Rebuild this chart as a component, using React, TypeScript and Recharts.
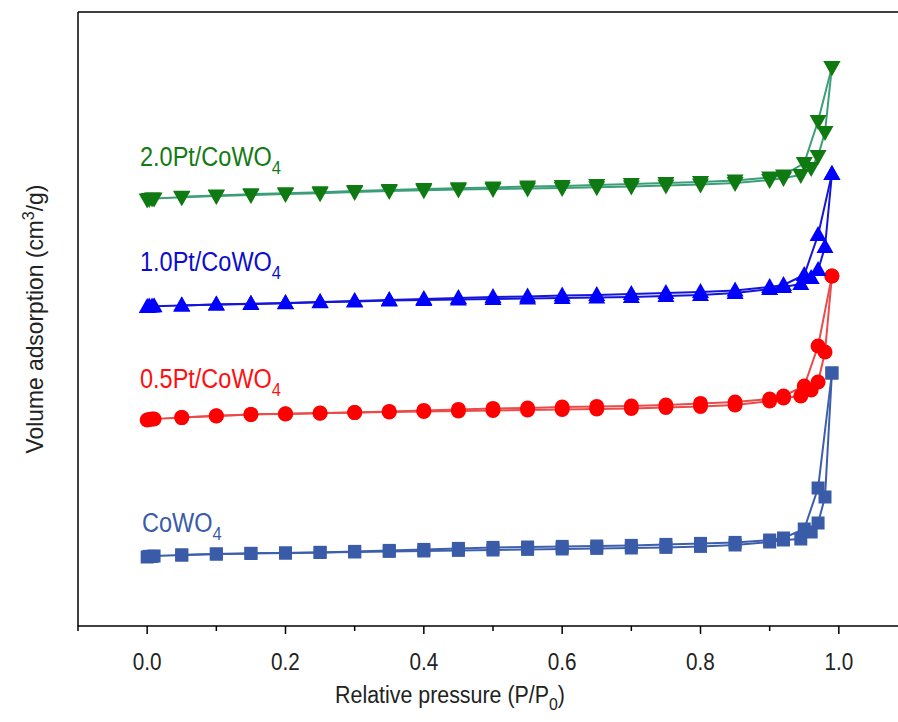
import React from 'react';
import { LineChart, Line, XAxis, YAxis, ReferenceLine } from 'recharts';

// relative pressure points (adsorption goes up, desorption comes back down)
const adsP = [0, 0.003, 0.007, 0.01, 0.05, 0.1, 0.15, 0.2, 0.25, 0.3, 0.35, 0.4, 0.45, 0.5, 0.55, 0.6, 0.65, 0.7, 0.75, 0.8, 0.85, 0.9, 0.92, 0.945, 0.96, 0.97, 0.98, 0.99];
const desP = [0.99, 0.97, 0.95, 0.92, 0.9, 0.85, 0.8, 0.75, 0.7, 0.65, 0.6, 0.55, 0.5, 0.45, 0.4, 0.35, 0.3, 0.25, 0.2, 0.15, 0.1, 0.05];

// volume adsorbed, arbitrary offset units (curves are stacked, no y ticks)
const cowo4Ads = [34.5, 34.8, 34.8, 35, 35.5, 36, 36.3, 36.5, 36.8, 37, 37.3, 37.5, 37.8, 38, 38.3, 38.5, 38.8, 39, 39.3, 39.8, 40.5, 42, 43, 43.5, 47, 51.5, 64.5, 126.5];
const cowo4Des = [126.5, 69, 48.5, 44, 43, 41.8, 41.3, 40.8, 40.3, 40, 39.8, 39.5, 39.3, 38.8, 38.3, 37.8, 37.3, 36.8, 36.5, 36.3, 36, 35.5];

const pt05Ads = [103, 103.3, 103.5, 103.5, 104.2, 105, 105.8, 106, 106.4, 106.7, 107, 107.3, 107.5, 107.8, 108, 108.3, 108.5, 108.8, 109.3, 109.8, 110.5, 112.5, 114, 115, 118, 122, 137, 175];
const pt05Des = [175, 140, 120, 115, 113.5, 112, 111.3, 110.5, 110, 109.8, 109.5, 109, 108.8, 108.3, 107.8, 107.3, 106.8, 106.5, 106.1, 105.8, 105.1, 104.3];

const pt10Ads = [159.5, 159.7, 159.8, 159.9, 160.2, 160.7, 161, 161.4, 161.9, 162.2, 162.7, 163, 163.3, 163.5, 163.8, 164, 164.3, 164.5, 165, 165.5, 166.5, 168.5, 169.5, 171, 174, 178, 189.5, 226];
const pt10Des = [226, 195.5, 175.5, 170.5, 169.5, 167.8, 167, 166.5, 166, 165.5, 165.3, 164.8, 164.5, 164, 163.5, 163, 162.5, 162, 161.5, 161.1, 160.8, 160.3];

const pt20Ads = [213.3, 213.5, 213.7, 213.8, 214.4, 215, 215.5, 216, 216.4, 217, 217.5, 217.9, 218.2, 218.5, 218.8, 219, 219.4, 219.8, 220.3, 220.8, 221.5, 223, 224, 225.5, 229, 235, 247, 279.5];
const pt20Des = [279.5, 252.5, 231.5, 225.3, 224.3, 222.8, 222, 221.5, 221, 220.5, 220, 219.7, 219.3, 218.9, 218.5, 218, 217.5, 216.9, 216.4, 215.9, 215.3, 214.6];

const xTicks = [-0.1, 0, 0.1, 0.2, 0.3, 0.4, 0.5, 0.6, 0.7, 0.8, 0.9, 1.0, 1.1];

const FONT = '"Liberation Sans", Arial, sans-serif';

const toRows = (xs: number[], ys: number[]) => xs.map((x, i) => ({ x, v: ys[i] }));

type Shape = 'square' | 'circle' | 'up' | 'down';

const makeDot = (shape: Shape, color: string) => (p: any) => {
  const { cx, cy, index } = p;
  const k = `d-${index}`;
  if (cx == null || cy == null) return <g key={k} />;
  if (shape === 'square') return <rect key={k} x={cx - 6.5} y={cy - 6.5} width={13} height={13} fill={color} />;
  if (shape === 'circle') return <circle key={k} cx={cx} cy={cy} r={7.5} fill={color} />;
  if (shape === 'up')
    return <polygon key={k} points={`${cx},${cy - 9} ${cx - 8.5},${cy + 6} ${cx + 8.5},${cy + 6}`} fill={color} />;
  return <polygon key={k} points={`${cx},${cy + 9} ${cx - 8.5},${cy - 6} ${cx + 8.5},${cy - 6}`} fill={color} />;
};

const XTick = (p: any) => {
  const { x, y, payload } = p;
  const v = payload.value as number;
  const major = Math.round(v * 10) % 2 === 0;
  return (
    <g>
      <line x1={x} x2={x} y1={y} y2={y + (major ? 8 : 5)} stroke="#000" strokeWidth={1.5} />
      {major && (
        <text
          x={x}
          y={y + 44}
          textAnchor="middle"
          fontSize={23}
          fontFamily={FONT}
          fill="#222"
          transform={`translate(${x} 0) scale(0.9 1) translate(${-x} 0)`}
        >
          {v.toFixed(1)}
        </text>
      )}
    </g>
  );
};

const series = [
  { id: 'cowo4', ads: cowo4Ads, des: cowo4Des, line: '#3d5fab', mark: '#3a5ba8', shape: 'square' as Shape },
  { id: 'pt05', ads: pt05Ads, des: pt05Des, line: '#ea4b4b', mark: '#ff0000', shape: 'circle' as Shape },
  { id: 'pt10', ads: pt10Ads, des: pt10Des, line: '#1515d8', mark: '#0000ff', shape: 'up' as Shape },
  { id: 'pt20', ads: pt20Ads, des: pt20Des, line: '#3c9e78', mark: '#0f7a12', shape: 'down' as Shape },
];

const labels = [
  { text: '2.0Pt/CoWO', color: '#147a14', left: 140, top: 142 },
  { text: '1.0Pt/CoWO', color: '#0c0cd0', left: 140, top: 247 },
  { text: '0.5Pt/CoWO', color: '#ff1010', left: 140, top: 364 },
  { text: 'CoWO', color: '#3a5ba8', left: 142, top: 508 },
];

export default function App() {
  return (
    <div style={{ position: 'absolute', left: 0, top: 0, width: 898, height: 722, overflow: 'hidden', background: '#fff', fontFamily: FONT }}>
      <LineChart width={930} height={722} margin={{ top: 12, right: 22, left: 78, bottom: 36 }}>
        <XAxis
          type="number"
          dataKey="x"
          domain={[-0.1, 1.1]}
          ticks={xTicks}
          allowDataOverflow
          height={60}
          tickSize={0}
          tickMargin={0}
          tickLine={false}
          tick={<XTick />}
          axisLine={{ stroke: '#000', strokeWidth: 1.5 }}
          interval={0}
        />
        <YAxis type="number" dataKey="v" domain={[0, 307]} width={0} tick={false} tickLine={false} axisLine={false} />
        <ReferenceLine y={307} stroke="#000" strokeWidth={1.5} />
        <ReferenceLine x={-0.1} stroke="#000" strokeWidth={1.5} />
        <ReferenceLine x={1.1} stroke="#000" strokeWidth={1.5} />
        {series.flatMap((s) => [
          <Line
            key={`${s.id}-a`}
            data={toRows(adsP, s.ads)}
            dataKey="v"
            type="linear"
            stroke={s.line}
            strokeWidth={2}
            dot={makeDot(s.shape, s.mark)}
            activeDot={false}
            isAnimationActive={false}
          />,
          <Line
            key={`${s.id}-d`}
            data={toRows(desP, s.des)}
            dataKey="v"
            type="linear"
            stroke={s.line}
            strokeWidth={2}
            dot={makeDot(s.shape, s.mark)}
            activeDot={false}
            isAnimationActive={false}
          />,
        ])}
      </LineChart>

      {labels.map((l) => (
        <div
          key={l.text + l.top}
          style={{
            position: 'absolute',
            left: l.left,
            top: l.top,
            color: l.color,
            fontSize: 27,
            lineHeight: '30px',
            whiteSpace: 'nowrap',
            transform: 'scaleX(0.87)',
            transformOrigin: 'left center',
          }}
        >
          {l.text}
          <span style={{ fontSize: 19, position: 'relative', top: 8 }}>4</span>
        </div>
      ))}

      <div
        style={{
          position: 'absolute',
          left: 35,
          top: 319,
          transform: 'translate(-50%, -50%) rotate(-90deg) scaleX(0.95)',
          fontSize: 24,
          whiteSpace: 'nowrap',
          color: '#222',
        }}
      >
        Volume adsorption (cm<span style={{ fontSize: 17, position: 'relative', top: -9 }}>3</span>/g)
      </div>

      <div
        style={{
          position: 'absolute',
          left: 450,
          top: 695,
          transform: 'translate(-50%, -50%) scaleX(0.93)',
          fontSize: 23,
          whiteSpace: 'nowrap',
          color: '#222',
        }}
      >
        Relative pressure (P/P<span style={{ fontSize: 17, position: 'relative', top: 7 }}>0</span>)
      </div>
    </div>
  );
}
